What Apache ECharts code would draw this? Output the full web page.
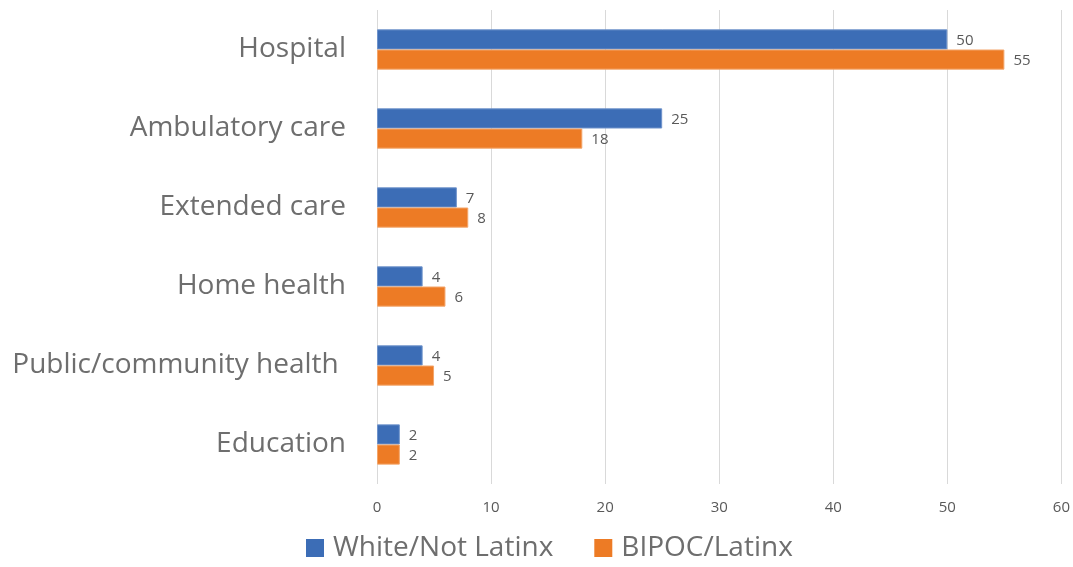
<!DOCTYPE html>
<html>
<head>
<meta charset="utf-8">
<style>
  html, body { margin: 0; padding: 0; background: #fff; }
  #chart { width: 1073px; height: 567px; }
</style>
<script src="https://cdn.jsdelivr.net/npm/echarts@6/dist/echarts.min.js"></script>
</head>
<body>
<div id="chart"></div>
<script>
// Work settings, listed top to bottom
const categories = ['Hospital', 'Ambulatory care', 'Extended care', 'Home health', 'Public/community health ', 'Education'];
const whiteNotLatinx = [50, 25, 7, 4, 4, 2];
const bipocLatinx = [55, 18, 8, 6, 5, 2];
const xTicks = { min: 0, max: 60, interval: 10 };

const chart = echarts.init(document.getElementById('chart'), null, { renderer: 'canvas' });
const FONT = '"Open Sans", "Noto Sans", sans-serif';

const valueLabel = {
  show: true,
  position: 'right',
  distance: 9,
  offset: [0, 1],
  color: '#595959',
  fontSize: 15,
  fontFamily: FONT
};

chart.setOption({
  animation: false,
  grid: { left: 377, right: 11, top: 10, bottom: 83, containLabel: false },
  legend: {
    bottom: 0,
    left: 301,
    itemWidth: 18,
    itemHeight: 18,
    itemGap: 41,
    icon: 'rect',
    itemStyle: { borderWidth: 0 },
    textStyle: { color: '#6E6E6E', fontSize: 28, lineHeight: 28, fontFamily: FONT, padding: [0, 0, 0, 4] },
    data: ['White/Not Latinx', 'BIPOC/Latinx']
  },
  xAxis: {
    type: 'value',
    min: xTicks.min,
    max: xTicks.max,
    interval: xTicks.interval,
    axisLine: { show: false },
    axisTick: { show: false },
    axisLabel: { color: '#595959', fontSize: 15, fontFamily: FONT, margin: 16 },
    splitLine: { show: true, lineStyle: { color: '#D9D9D9', width: 1 } }
  },
  yAxis: {
    type: 'category',
    inverse: true,
    data: categories,
    axisLine: { show: false },
    axisTick: { show: false },
    axisLabel: { color: '#6E6E6E', fontSize: 28, fontFamily: FONT, margin: 31 }
  },
  series: [
    {
      name: 'White/Not Latinx',
      type: 'bar',
      data: whiteNotLatinx,
      barGap: '0%',
      barCategoryGap: '49%',
      itemStyle: { color: '#3C6DB6', borderColor: '#6F93CB', borderWidth: 1 },
      label: valueLabel
    },
    {
      name: 'BIPOC/Latinx',
      type: 'bar',
      data: bipocLatinx,
      barGap: '0%',
      barCategoryGap: '49%',
      itemStyle: { color: '#ED7B25', borderColor: '#F3A56A', borderWidth: 1 },
      label: valueLabel
    }
  ]
});
</script>
</body>
</html>
